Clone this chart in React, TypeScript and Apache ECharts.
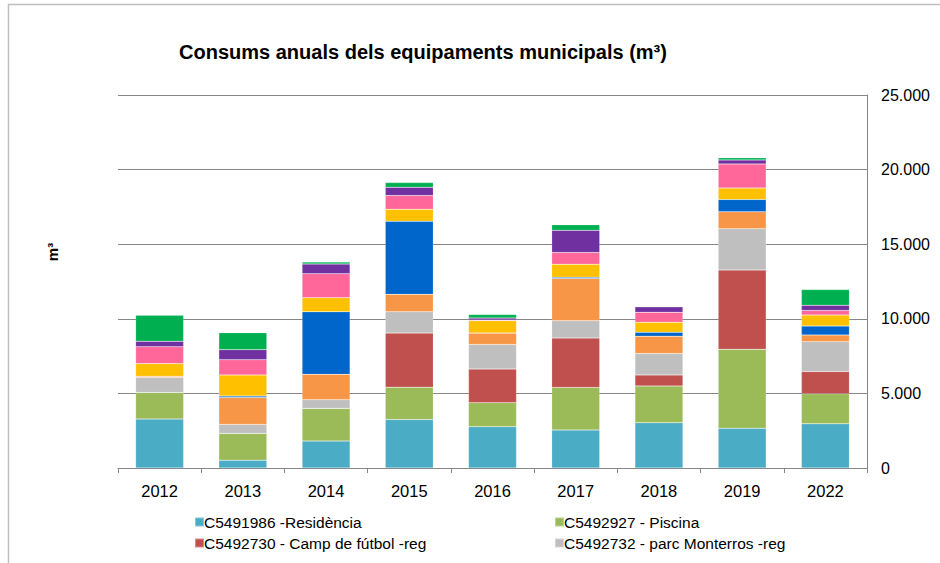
import React, { useEffect, useRef } from "react";
import * as echarts from "echarts";

const years = ["2012", "2013", "2014", "2015", "2016", "2017", "2018", "2019", "2022"];
const residencia = [3280, 520, 1810, 3250, 2770, 2550, 3030, 2660, 2960];
const piscina = [1780, 1800, 2180, 2170, 1610, 2850, 2470, 5300, 2010];
const campFutbol = [0, 0, 0, 3620, 2250, 3310, 740, 5310, 1500];
const parcMonterros = [1000, 600, 590, 1430, 1650, 1160, 1430, 2770, 2000];
const serie5 = [90, 1810, 1700, 1170, 760, 2830, 1160, 1130, 440];
const serie6 = [0, 90, 4190, 4900, 0, 90, 270, 830, 600];
const serie7 = [850, 1420, 940, 800, 830, 870, 670, 760, 740];
const serie8 = [1130, 1020, 1610, 920, 50, 780, 670, 1620, 310];
const serie9 = [360, 670, 650, 560, 130, 1490, 370, 270, 350];
const serie10 = [1740, 1140, 130, 310, 230, 370, 0, 140, 1050];

const seriesNames = [
  "C5491986 -Residència",
  "C5492927 - Piscina",
  "C5492730 - Camp de fútbol -reg",
  "C5492732 - parc Monterros -reg",
  "Sèrie 5",
  "Sèrie 6",
  "Sèrie 7",
  "Sèrie 8",
  "Sèrie 9",
  "Sèrie 10",
];
const seriesData = [residencia, piscina, campFutbol, parcMonterros, serie5, serie6, serie7, serie8, serie9, serie10];
const colors = ["#4BACC6", "#9BBB59", "#C0504D", "#BFBFBF", "#F79646", "#0066CC", "#FFC000", "#FF6699", "#7030A0", "#00B050"];

const fmt = (v: number) => String(v).replace(/\B(?=(\d{3})+(?!\d))/g, ".");
const FONT = "'Liberation Sans', Arial, sans-serif";

export default function App() {
  const ref = useRef<HTMLDivElement>(null);
  useEffect(() => {
    if (!ref.current) return;
    const chart = echarts.init(ref.current, undefined, { renderer: "svg" });
    const legendStyle = {
      orient: "vertical",
      top: 509,
      itemWidth: 9,
      itemHeight: 9,
      itemGap: 5,
      icon: "rect",
      textStyle: { fontSize: 15.5, color: "#000", fontFamily: FONT, padding: [0, 0, 0, -5] },
    };
    chart.setOption({
      animation: false,
      backgroundColor: "#ffffff",
      textStyle: { fontFamily: FONT },
      grid: { left: 118, right: 73, top: 95, bottom: 95, containLabel: false },
      legend: [
        { ...legendStyle, data: [seriesNames[0], seriesNames[2]], left: 189 },
        { ...legendStyle, data: [seriesNames[1], seriesNames[3]], left: 549 },
      ],
      xAxis: {
        type: "category",
        data: years,
        axisLine: { lineStyle: { color: "#868686", width: 1 } },
        axisTick: { show: true, length: 5, lineStyle: { color: "#868686" } },
        axisLabel: { fontSize: 16.5, color: "#000", margin: 14, fontFamily: FONT },
      },
      yAxis: {
        type: "value",
        position: "right",
        min: 0,
        max: 25000,
        interval: 5000,
        axisLine: { show: true, lineStyle: { color: "#868686", width: 1 } },
        axisTick: { show: false },
        splitLine: { show: true, lineStyle: { color: "#868686", width: 1 } },
        axisLabel: { fontSize: 16, color: "#000", margin: 14, formatter: (v: number) => fmt(v), fontFamily: FONT },
      },
      series: seriesData.map((d, i) => ({
        name: seriesNames[i],
        type: "bar",
        stack: "total",
        barWidth: 48,
        data: d,
        itemStyle: { color: colors[i], borderColor: "rgba(255,255,255,0.35)", borderWidth: 0.5 },
      })),
      graphic: [
        {
          type: "rect",
          shape: { x: 8.5, y: 4.5, width: 1000, height: 600 },
          style: { fill: "none", stroke: "#BFBFBF", lineWidth: 1.5 },
          silent: true,
        },
        {
          type: "text",
          x: 423,
          y: 52,
          style: {
            text: "Consums anuals dels equipaments municipals (m³)",
            fontSize: 20,
            fontWeight: "bold",
            fill: "#000",
            fontFamily: FONT,
            align: "center",
            verticalAlign: "middle",
          },
        },
        {
          type: "text",
          x: 52,
          y: 252,
          rotation: Math.PI / 2,
          style: {
            text: "m³",
            fontSize: 15,
            fontWeight: "bold",
            fill: "#000",
            fontFamily: FONT,
            align: "center",
            verticalAlign: "middle",
          },
        },
      ],
    });
    return () => chart.dispose();
  }, []);
  return (
    <div
      ref={ref}
      style={{ position: "fixed", left: 0, top: 0, width: 940, height: 563, background: "#fff" }}
    />
  );
}
